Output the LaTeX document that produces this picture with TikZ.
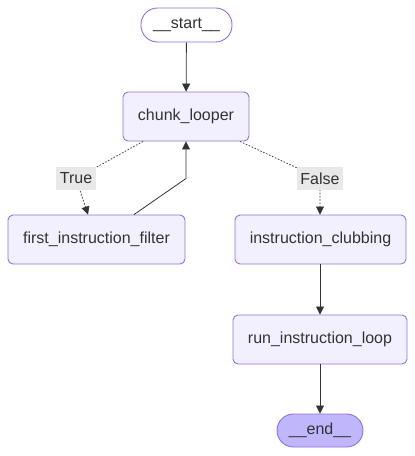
\documentclass[tikz,border=0pt]{standalone}
\usepackage{fontspec}
\setmainfont{Liberation Sans}
\usetikzlibrary{arrows.meta,calc}
\definecolor{nodefill}{HTML}{F2F0FF}
\definecolor{nodeline}{HTML}{9370DB}
\definecolor{endfill}{HTML}{BFB6FC}
\definecolor{edgecol}{HTML}{333333}
\definecolor{labfill}{HTML}{E8E8E8}

\begin{document}
\begin{tikzpicture}[
		x=1pt,y=-1pt,
		box/.style={draw=nodeline,fill=nodefill,line width=0.9pt,rounded corners=5pt,
			minimum height=49pt,inner sep=0pt,text=edgecol,
			font=\fontsize{16}{19}\selectfont},
		term/.style={box,rounded corners=16.5pt,minimum height=34pt},
		edge/.style={-{Triangle[length=8pt,width=8pt]},edgecol,line width=0.8pt},
		dotedge/.style={edge,line width=0.7pt,dash pattern=on 1.6pt off 1.6pt},
		lab/.style={fill=labfill,text=edgecol,inner sep=0pt,minimum width=40pt,
			minimum height=23pt,font=\fontsize{16}{19}\selectfont}
		]
		% ===== Page =====
		\useasboundingbox (0,0) rectangle (415,456);
		% ===== Nodes =====
		\node[term,fill=white,minimum width=91pt] (start) at (186.5,25) {\_\_start\_\_};
		\node[box,minimum width=126pt] (chunk) at (186,116.5) {chunk\_looper};
		\node[box,minimum width=177pt] (fis) at (96.5,239.5) {first\_instruction\_filter};
		\node[box,minimum width=171pt] (club) at (320.5,239.5) {instruction\_clubbing};
		\node[box,minimum width=174pt] (loop) at (320,339.5) {run\_instruction\_loop};
		\node[term,fill=endfill,minimum width=86pt,minimum height=33pt] (end) at (320,430.5) {\_\_end\_\_};
		% ===== Label points =====
		\coordinate (truept) at (76,178.5);
		\coordinate (falsept) at (320,178.5);
		% ===== Edges =====
		\draw[edge] (start) -- (chunk);
		\draw[dotedge] ([xshift=-43pt]chunk.south) -- (truept) -- ([xshift=-8.5pt]fis.north);
		\draw[edge] ([xshift=37.5pt]fis.north) -- (chunk.south |- truept) -- (chunk.south);
		\draw[dotedge] ([xshift=54pt]chunk.south) -- (falsept) -- (club.north -| falsept);
		\draw[edge] (club.south -| loop) -- (loop);
		\draw[edge] (loop) -- (end);
		% ===== Edge labels =====
		\node[lab] (truelab) at (truept) {True};
		\node[lab,minimum width=46pt] (falselab) at (falsept) {False};
	\end{tikzpicture}
\end{document}
